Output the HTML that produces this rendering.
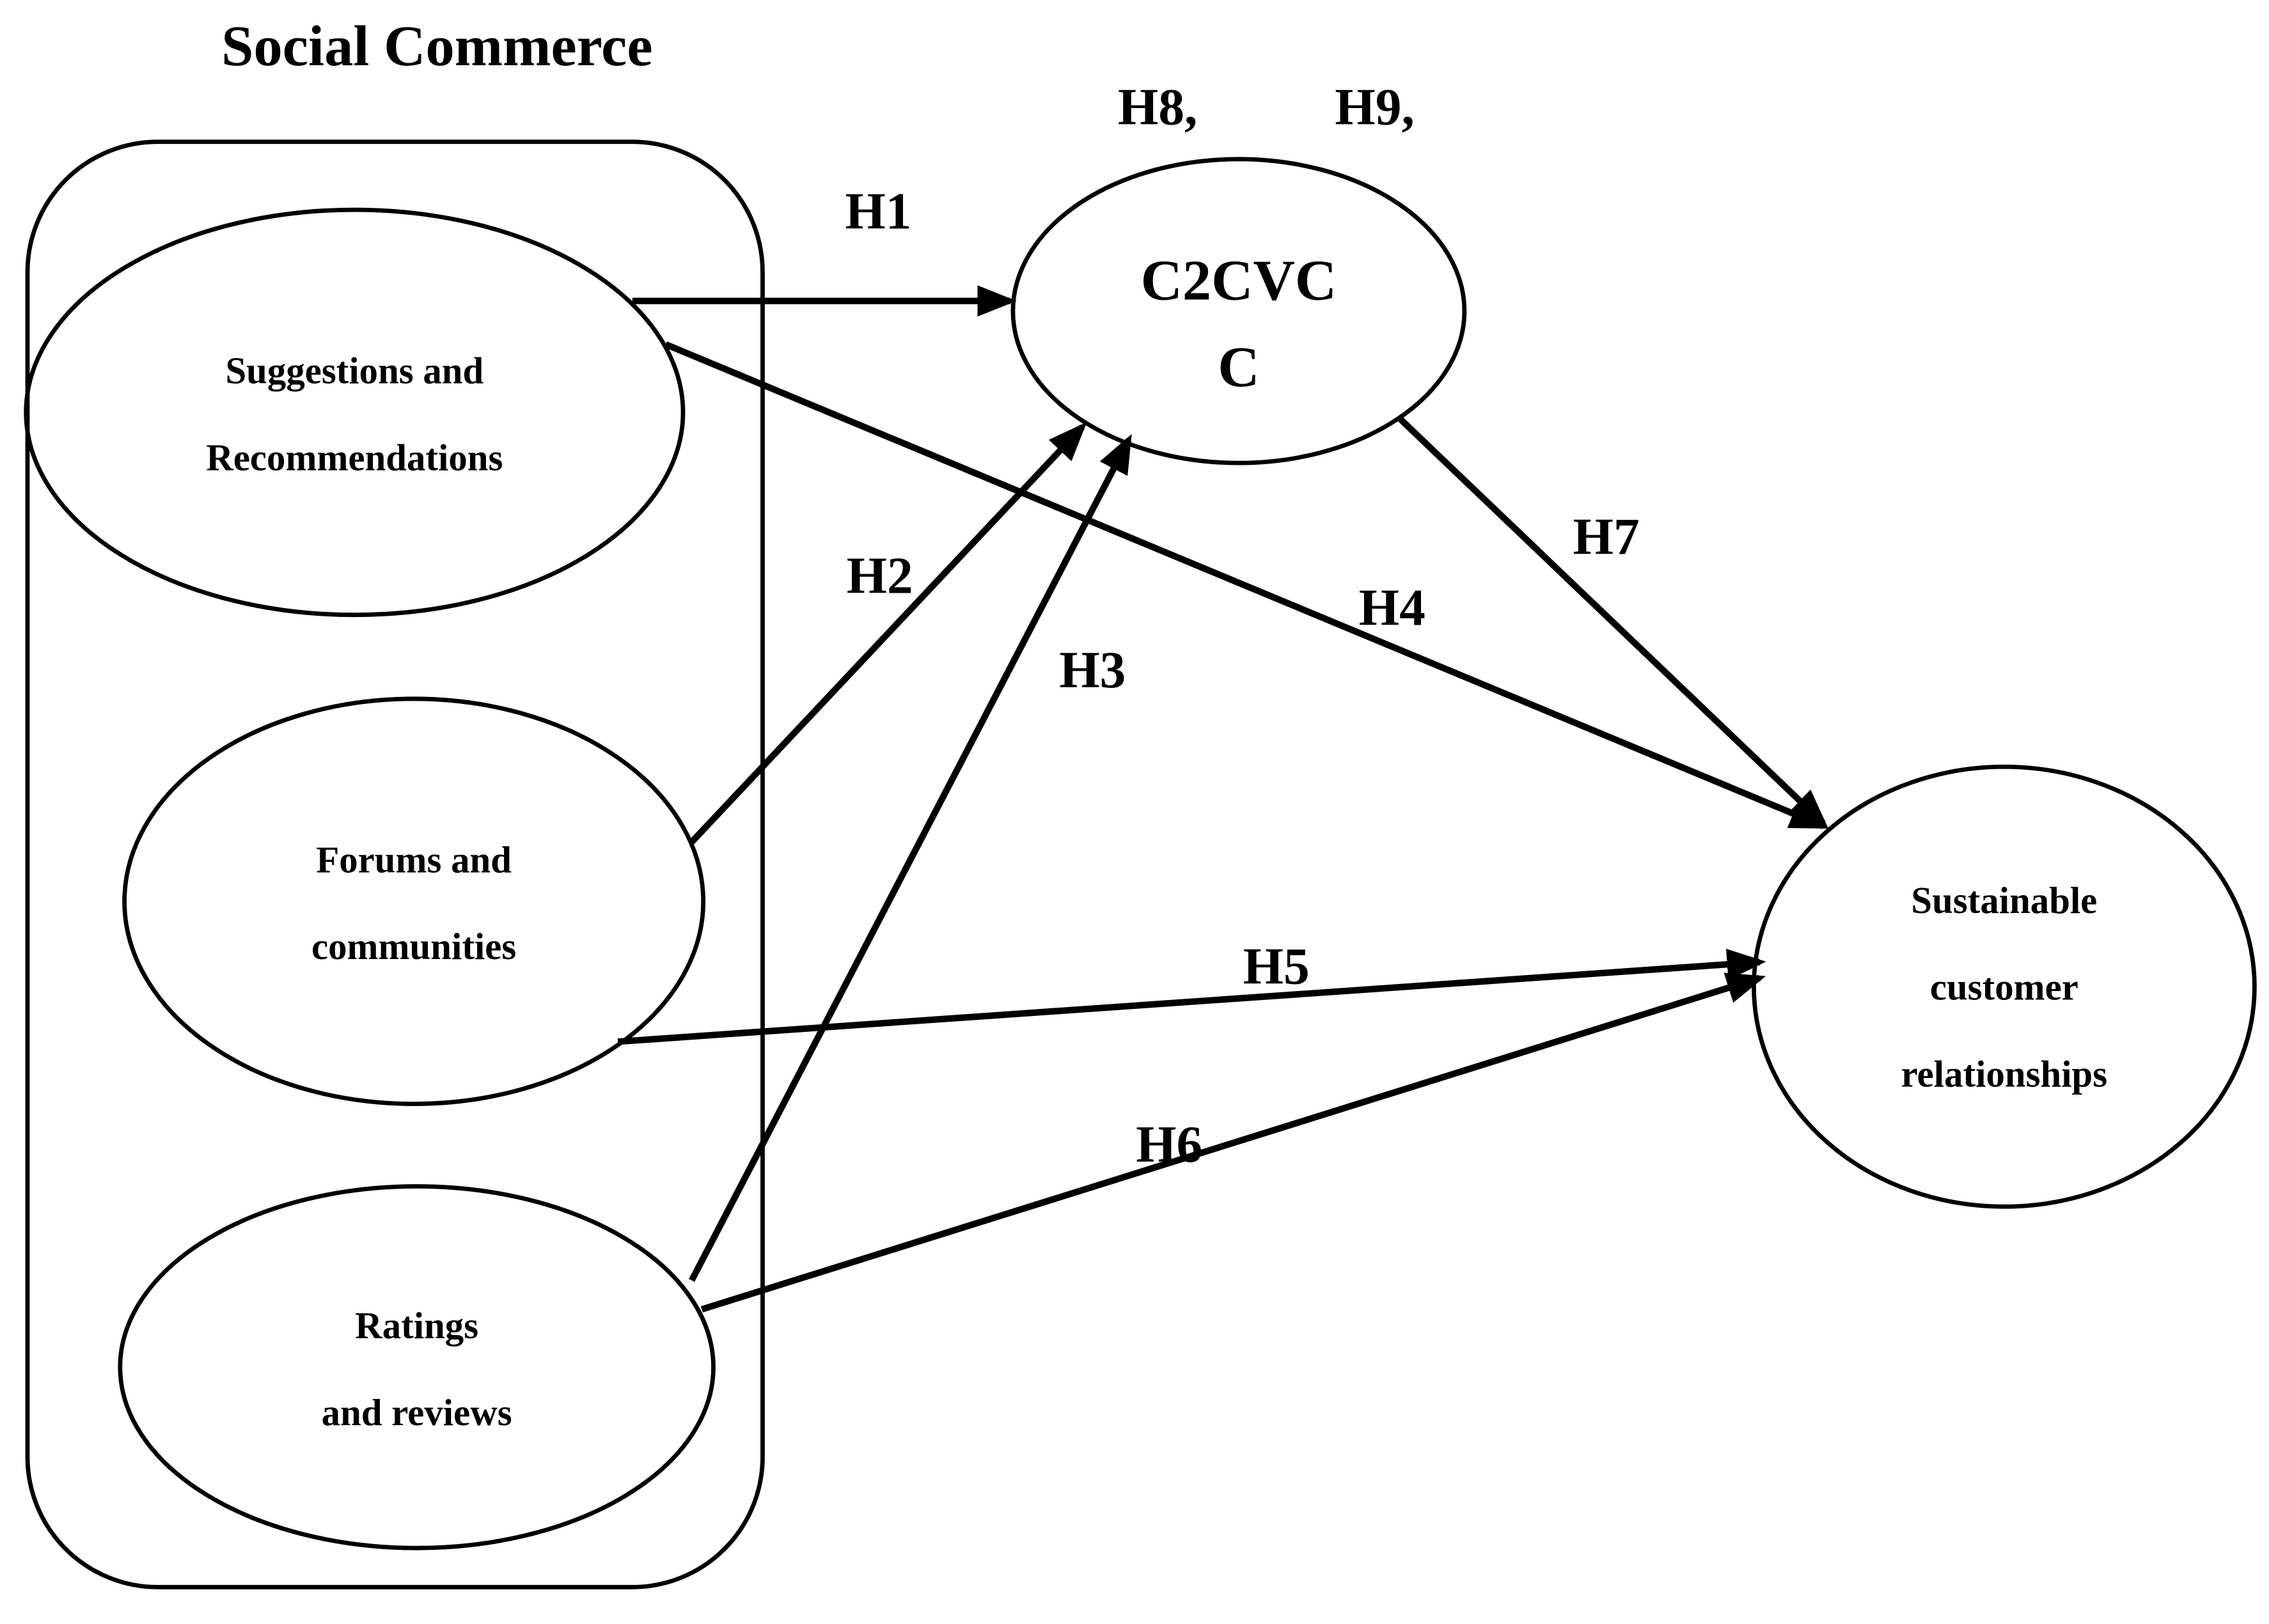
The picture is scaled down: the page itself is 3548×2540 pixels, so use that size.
<!DOCTYPE html>
<html><head><meta charset="utf-8"><style>
html,body{margin:0;padding:0;background:#fff;}
svg{display:block;}
text{font-family:"Liberation Serif",serif;font-weight:bold;fill:#000;text-anchor:middle;}
</style></head><body>
<svg width="3548" height="2540" viewBox="0 0 1568 1122.5" preserveAspectRatio="none" xmlns="http://www.w3.org/2000/svg">
<defs>
<marker id="a" markerWidth="6" markerHeight="6" refX="5" refY="3" orient="auto" markerUnits="strokeWidth">
<path d="M0,0.6 L6,3 L0,5.4 z" fill="#000"/>
</marker>
</defs>
<text x="302" y="45" font-size="40">Social Commerce</text>
<rect x="19" y="98" width="508" height="999" rx="90" ry="90" fill="none" stroke="#000" stroke-width="3"/>
<g fill="none" stroke="#000" stroke-width="3">
<ellipse cx="245" cy="285" rx="227" ry="140"/>
<ellipse cx="286" cy="623" rx="200" ry="140"/>
<ellipse cx="288" cy="945" rx="205" ry="125"/>
<ellipse cx="856" cy="215" rx="156" ry="105"/>
<ellipse cx="1385" cy="682" rx="173" ry="152"/>
</g>
<g font-size="26">
<text x="245" y="265">Suggestions and</text>
<text x="245" y="325">Recommendations</text>
<text x="286" y="603">Forums and</text>
<text x="286" y="663">communities</text>
<text x="288" y="925">Ratings</text>
<text x="288" y="985">and reviews</text>
<text x="1385" y="631">Sustainable</text>
<text x="1385" y="691">customer</text>
<text x="1385" y="751">relationships</text>
</g>
<g font-size="40">
<text x="856" y="207">C2CVC</text>
<text x="856" y="267">C</text>
</g>
<g font-size="36">
<text x="800" y="86">H8,</text>
<text x="950" y="86">H9,</text>
<text x="607" y="158">H1</text>
<text x="608" y="410">H2</text>
<text x="755" y="475">H3</text>
<text x="962" y="432">H4</text>
<text x="1110" y="383">H7</text>
<text x="882" y="680">H5</text>
<text x="808" y="803">H6</text>
</g>
<g stroke="#000" stroke-width="4.5" fill="none" marker-end="url(#a)">
<line x1="437" y1="208" x2="698" y2="208"/>
<line x1="460" y1="238" x2="1260" y2="571"/>
<line x1="478" y1="582" x2="748" y2="295"/>
<line x1="478" y1="885" x2="780" y2="304"/>
<line x1="967" y1="289" x2="1260" y2="569"/>
<line x1="427" y1="720" x2="1216" y2="665"/>
<line x1="485" y1="905" x2="1216" y2="676"/>
</g>
</svg>
</body></html>
